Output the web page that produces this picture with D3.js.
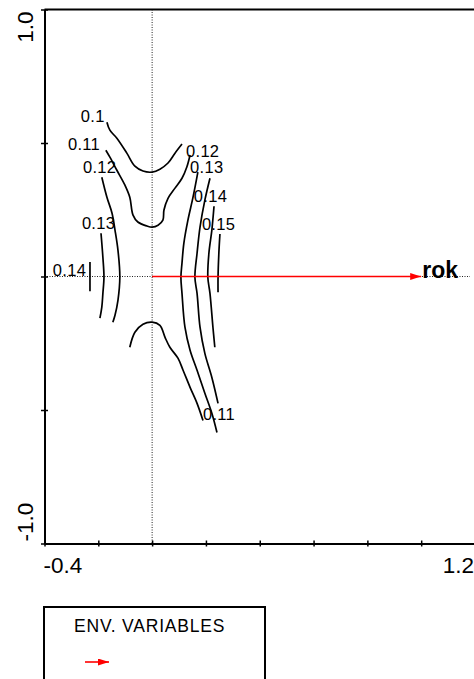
<!DOCTYPE html>
<html>
<head>
<meta charset="utf-8">
<script src="https://cdn.jsdelivr.net/npm/d3@7"></script>
<style>
  html, body { margin: 0; padding: 0; background: #fff; }
  svg { display: block; }
  text { font-family: "Liberation Sans", Arial, sans-serif; }
</style>
</head>
<body>
<script>
//// DATA

// axis ticks, only the end ticks get a label
const xTicks = [-0.4, -0.2, 0, 0.2, 0.4, 0.6, 0.8, 1.0, 1.2]
const yTicks = [-1.0, -0.5, 0, 0.5, 1.0]
const xEndLabels = ["-0.4", "1.2"]
const yEndLabels = ["-1.0", "1.0"]

// environmental variable arrows
const envVars = [{ name: "rok", x: 1.0, y: 0.0 }]

// contour lines, in axis units
const c010 = [[-0.168,0.578],[-0.157,0.548],[-0.131,0.518],[-0.094,0.462],[-0.064,0.413],[-0.034,0.395],[0.0,0.391],[0.029,0.402],[0.059,0.425],[0.085,0.462],[0.111,0.496]]
const c011top = [[-0.172,0.473],[-0.157,0.447],[-0.131,0.398],[-0.101,0.342],[-0.083,0.297],[-0.071,0.230],[-0.053,0.204],[-0.019,0.189],[0.0,0.185],[0.022,0.192],[0.040,0.211],[0.044,0.249],[0.059,0.293],[0.085,0.331],[0.111,0.368],[0.129,0.410],[0.141,0.455]]
const c011bottom = [[-0.083,-0.265],[-0.064,-0.209],[-0.034,-0.179],[0.0,-0.171],[0.029,-0.183],[0.048,-0.228],[0.066,-0.265],[0.096,-0.306],[0.115,-0.351],[0.141,-0.415],[0.167,-0.475],[0.189,-0.539]]
const c012right = [[0.170,0.391],[0.152,0.297],[0.133,0.211],[0.118,0.125],[0.111,0.050],[0.107,-0.003],[0.111,-0.063],[0.122,-0.190],[0.141,-0.276],[0.167,-0.351],[0.196,-0.437],[0.222,-0.512],[0.241,-0.584]]
const c013right = [[0.215,0.368],[0.196,0.286],[0.178,0.185],[0.167,0.087],[0.159,-0.003],[0.167,-0.063],[0.178,-0.190],[0.196,-0.288],[0.222,-0.378],[0.245,-0.475]]
const c014right = [[0.230,0.263],[0.222,0.174],[0.211,0.087],[0.207,-0.003],[0.215,-0.063],[0.226,-0.190],[0.233,-0.265]]
const c015right = [[0.252,0.159],[0.248,0.087],[0.245,-0.003],[0.245,-0.059]]
const c012left = [[-0.187,0.372],[-0.168,0.297],[-0.149,0.237],[-0.138,0.174],[-0.127,0.099],[-0.120,-0.003],[-0.127,-0.089],[-0.138,-0.145],[-0.146,-0.171]]
const c013left = [[-0.190,0.162],[-0.183,0.072],[-0.179,-0.003],[-0.183,-0.063],[-0.187,-0.115],[-0.194,-0.156]]
const c014left = [[-0.231,0.054],[-0.231,-0.055]]

const contours = [c010, c011top, c011bottom, c012right, c013right, c014right, c015right, c012left, c013left, c014left]

// contour labels, placed where they sit in the picture
const contourLabels = [
  { text: "0.1",  x: -0.265, y: 0.578 },
  { text: "0.11", x: -0.313, y: 0.473 },
  { text: "0.12", x: -0.257, y: 0.387 },
  { text: "0.13", x: -0.261, y: 0.177 },
  { text: "0.14", x: -0.369, y: 0.001 },
  { text: "0.12", x: 0.126,  y: 0.447 },
  { text: "0.13", x: 0.141,  y: 0.387 },
  { text: "0.14", x: 0.155,  y: 0.278 },
  { text: "0.15", x: 0.185,  y: 0.174 },
  { text: "0.11", x: 0.189,  y: -0.539 }
]

const legendTitle = "ENV. VARIABLES"

//// DRAWING

const width = 474, height = 679
const red = "#ff0000"

const svg = d3.select("body").append("svg")
  .attr("width", width)
  .attr("height", height)

const x = d3.scaleLinear().domain([-0.4, 1.2]).range([44.5, 475])
const y = d3.scaleLinear().domain([-1, 1]).range([543.5, 9.5])

// arrow head for the env. variable arrows
const defs = svg.append("defs")
defs.append("marker")
  .attr("id", "head")
  .attr("markerUnits", "userSpaceOnUse")
  .attr("viewBox", "0 0 11 7")
  .attr("refX", 11).attr("refY", 3.5)
  .attr("markerWidth", 11).attr("markerHeight", 7)
  .attr("orient", "auto")
  .append("path")
  .attr("d", "M0,0L11,3.5L0,7Z")
  .attr("fill", red)

// dotted zero lines
svg.append("line")
  .attr("x1", x(0)).attr("x2", x(0))
  .attr("y1", y(1)).attr("y2", y(-1))
  .attr("stroke", "#222").attr("stroke-width", 1)
  .attr("stroke-dasharray", "1,1.5")
svg.append("line")
  .attr("x1", x(-0.4)).attr("x2", 470)
  .attr("y1", y(0)).attr("y2", y(0))
  .attr("stroke", "#222").attr("stroke-width", 1)
  .attr("stroke-dasharray", "1,1.5")

// top frame line
svg.append("line")
  .attr("x1", x(-0.4)).attr("x2", x(1.2))
  .attr("y1", y(1)).attr("y2", y(1))
  .attr("stroke", "#000").attr("stroke-width", 2)

// axes: ticks cross the axis line, labels are drawn separately
const xAxis = svg.append("g")
  .attr("transform", `translate(0,${y(-1)})`)
  .call(d3.axisBottom(x).tickValues(xTicks).tickFormat("").tickSizeOuter(0))
const yAxis = svg.append("g")
  .attr("transform", `translate(${x(-0.4)},0)`)
  .call(d3.axisLeft(y).tickValues(yTicks).tickFormat("").tickSizeOuter(0))

for (const ax of [xAxis, yAxis]) {
  ax.select(".domain").attr("stroke", "#000").attr("stroke-width", 2)
  ax.selectAll(".tick line").attr("stroke", "#000").attr("stroke-width", 1.5)
}
xAxis.selectAll(".tick line").attr("y1", -3).attr("y2", 3)
yAxis.selectAll(".tick line").attr("x1", -3.5).attr("x2", 3.5)

// end labels
svg.append("text")
  .attr("x", x(-0.4) - 1).attr("y", 573)
  .attr("font-size", 22.5)
  .text(xEndLabels[0])
svg.append("text")
  .attr("x", 474).attr("y", 573)
  .attr("font-size", 22.5)
  .attr("text-anchor", "end")
  .text(xEndLabels[1])
svg.append("text")
  .attr("transform", `translate(33,${y(-1) - 2}) rotate(-90)`)
  .attr("font-size", 22.5)
  .text(yEndLabels[0])
svg.append("text")
  .attr("transform", `translate(33,${y(1) + 2}) rotate(-90)`)
  .attr("font-size", 22.5)
  .attr("text-anchor", "end")
  .text(yEndLabels[1])

// contours
const line = d3.line()
  .x(d => x(d[0]))
  .y(d => y(d[1]))
  .curve(d3.curveCatmullRom.alpha(0.5))

svg.selectAll(".contour")
  .data(contours)
  .join("path")
  .attr("class", "contour")
  .attr("d", line)
  .attr("fill", "none")
  .attr("stroke", "#000")
  .attr("stroke-width", 1.7)

svg.selectAll(".clabel")
  .data(contourLabels)
  .join("text")
  .attr("class", "clabel")
  .attr("x", d => x(d.x))
  .attr("y", d => y(d.y))
  .attr("font-size", 16.5)
  .attr("letter-spacing", 0.3)
  .text(d => d.name || d.text)

// env. variable arrows
svg.selectAll(".env")
  .data(envVars)
  .join("line")
  .attr("class", "env")
  .attr("x1", x(0)).attr("y1", y(0))
  .attr("x2", d => x(d.x)).attr("y2", d => y(d.y))
  .attr("stroke", red).attr("stroke-width", 1.6)
  .attr("marker-end", "url(#head)")

svg.selectAll(".envlabel")
  .data(envVars)
  .join("text")
  .attr("class", "envlabel")
  .attr("x", d => x(d.x) + 1)
  .attr("y", d => y(d.y) + 1)
  .attr("font-size", 23)
  .attr("font-weight", "bold")
  .text(d => d.name)

// legend box
svg.append("rect")
  .attr("x", 44).attr("y", 607)
  .attr("width", 221).attr("height", 100)
  .attr("fill", "none")
  .attr("stroke", "#000").attr("stroke-width", 2)
svg.append("text")
  .attr("x", 74).attr("y", 632)
  .attr("font-size", 17.5)
  .attr("letter-spacing", 0.8)
  .text(legendTitle)
svg.append("line")
  .attr("x1", 85).attr("x2", 109)
  .attr("y1", 662).attr("y2", 662)
  .attr("stroke", red).attr("stroke-width", 1.6)
  .attr("marker-end", "url(#head)")
</script>
</body>
</html>
